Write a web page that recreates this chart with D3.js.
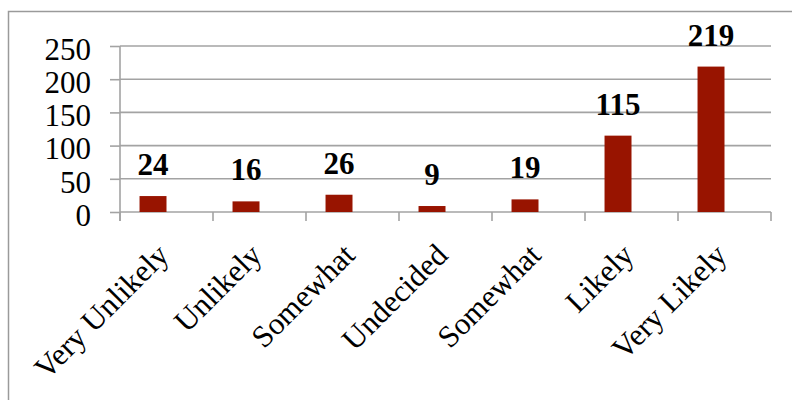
<!DOCTYPE html>
<html>
<head>
<meta charset="utf-8">
<script src="https://cdn.jsdelivr.net/npm/d3@7"></script>
<style>
  html, body { margin: 0; padding: 0; background: #fff; }
  svg { display: block; }
</style>
</head>
<body>
<svg id="chart" width="792" height="400"></svg>
<script>
// Survey responses per answer category
const categories = ["Very Unlikely", "Unlikely", "Somewhat", "Undecided", "Somewhat", "Likely", "Very Likely"];
const counts = [24, 16, 26, 9, 19, 115, 219];
const yTicks = [0, 50, 100, 150, 200, 250];

(function draw() {
  const FONT = '"Liberation Serif", "Times New Roman", serif';
  const svg = d3.select("#chart");
  const W = 792, H = 400;
  const plotLeft = 120, plotRight = 771, plotTop = 46, plotBottom = 212;
  const gridColor = "#a3a3a3";

  // outer frame
  svg.append("rect")
    .attr("x", 8.5).attr("y", 11.5)
    .attr("width", W + 10).attr("height", H + 10)
    .attr("fill", "none").attr("stroke", "#9a9a9a").attr("stroke-width", 1.5);

  // positional keys so the two "Somewhat" entries stay distinct
  const keys = categories.map((c, i) => i);
  const x = d3.scaleBand().domain(keys).range([plotLeft, plotRight]).paddingInner(0).paddingOuter(0);
  const y = d3.scaleLinear().domain([0, 250]).range([plotBottom, plotTop]);

  // horizontal gridlines
  svg.append("g")
    .selectAll("line")
    .data(yTicks.filter(t => t > 0))
    .join("line")
    .attr("x1", plotLeft).attr("x2", plotRight)
    .attr("y1", d => y(d)).attr("y2", d => y(d))
    .attr("stroke", gridColor).attr("stroke-width", 1.6);

  // y axis
  const yAxis = svg.append("g")
    .attr("transform", `translate(${plotLeft},0)`)
    .call(d3.axisLeft(y).tickValues(yTicks).tickSize(10).tickPadding(19).tickSizeOuter(0));
  yAxis.select(".domain").remove();
  yAxis.selectAll(".tick line").attr("stroke", gridColor).attr("stroke-width", 1.6);
  yAxis.selectAll(".tick text")
    .style("font-family", FONT)
    .style("font-size", "31px")
    .attr("fill", "#000")
    .attr("dy", "0.43em");
  yAxis.append("line")
    .attr("x1", 0).attr("x2", 0)
    .attr("y1", plotTop).attr("y2", plotBottom + 9)
    .attr("stroke", gridColor).attr("stroke-width", 1.6);

  // x axis with boundary ticks between categories
  const xAxisG = svg.append("g");
  xAxisG.append("line")
    .attr("x1", plotLeft).attr("x2", plotRight)
    .attr("y1", plotBottom).attr("y2", plotBottom)
    .attr("stroke", gridColor).attr("stroke-width", 1.6);
  const boundaries = keys.map(k => x(k)).concat([x(keys[keys.length - 1]) + x.bandwidth()]);
  xAxisG.selectAll("line.tk")
    .data(boundaries)
    .join("line")
    .attr("class", "tk")
    .attr("x1", d => d).attr("x2", d => d)
    .attr("y1", plotBottom).attr("y2", plotBottom + 9)
    .attr("stroke", gridColor).attr("stroke-width", 1.6);

  // category labels, rotated
  xAxisG.selectAll("text")
    .data(keys)
    .join("text")
    .attr("transform", k => `translate(${x(k) + x.bandwidth() / 2 + 4},257) rotate(-45)`)
    .attr("text-anchor", "end")
    .attr("fill", "#000")
    .style("font-family", FONT)
    .style("font-size", "31px")
    .text(k => categories[k]);

  // bars
  const barOffset = x.bandwidth() * 0.21;
  const barWidth = x.bandwidth() * 0.29;
  svg.append("g")
    .selectAll("rect")
    .data(keys)
    .join("rect")
    .attr("x", k => x(k) + barOffset)
    .attr("width", barWidth)
    .attr("y", k => y(counts[k]))
    .attr("height", k => y(0) - y(counts[k]))
    .attr("fill", "#981400");

  // value labels
  svg.append("g")
    .selectAll("text")
    .data(keys)
    .join("text")
    .attr("x", k => x(k) + barOffset + barWidth / 2)
    .attr("y", k => y(counts[k]) - 21)
    .attr("text-anchor", "middle")
    .attr("fill", "#000")
    .style("font-family", FONT)
    .style("font-size", "31px")
    .style("font-weight", "bold")
    .text(k => counts[k]);
})();
</script>
</body>
</html>
